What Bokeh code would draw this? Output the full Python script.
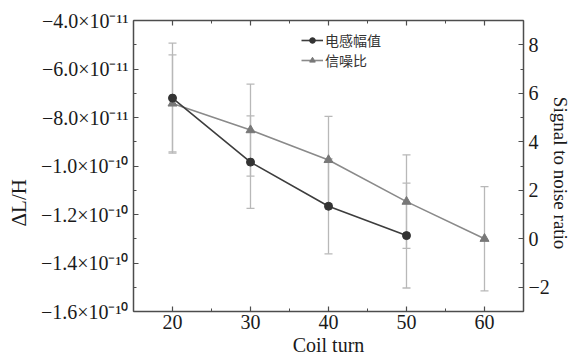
from bokeh.plotting import figure
from bokeh.models import (Range1d, LinearAxis, FixedTicker, Whisker, ColumnDataSource,
                          Legend, LegendItem, TeeHead)
from bokeh.embed import file_html
from bokeh.resources import INLINE

# ---------------- data ----------------
turns_ind = [20, 30, 40, 50]
inductance = [-7.2e-11, -9.84e-11, -1.166e-10, -1.287e-10]
inductance_err = [2.27e-11, 1.91e-11, 1.96e-11, 2.16e-11]

turns_snr = [20, 30, 40, 50, 60]
snr = [5.58, 4.48, 3.25, 1.53, 0.0]
snr_err = [2.0, 1.9, 1.8, 1.93, 2.15]

x_ticks = [20, 30, 40, 50, 60]
x_minor = [15, 25, 35, 45, 55, 65]
left_ticks = [-1.6e-10, -1.4e-10, -1.2e-10, -1.0e-10, -8.0e-11, -6.0e-11, -4.0e-11]
left_minor = [-1.5e-10, -1.3e-10, -1.1e-10, -9.0e-11, -7.0e-11, -5.0e-11]
left_labels = ["−1.6×10⁻¹⁰", "−1.4×10⁻¹⁰", "−1.2×10⁻¹⁰", "−1.0×10⁻¹⁰",
               "−8.0×10⁻¹¹", "−6.0×10⁻¹¹", "−4.0×10⁻¹¹"]
right_ticks = [-2, 0, 2, 4, 6, 8]
right_minor = [-3, -1, 1, 3, 5, 7, 9]
right_labels = ["−2", "0", "2", "4", "6", "8"]

series_names = ["电感幅值", "信噪比"]
x_title = "Coil turn"
left_title = "ΔL/H"
right_title = "Signal to noise ratio"

# ---------------- styles ----------------
SERIF = "Liberation Serif"
AX_COLOR = "#4d4d4d"
TXT = "#1a1a1a"
DARK = "#3d3d3d"
GREY = "#8a8a8a"
ERR = "#b8b8b8"
NBSP = "\u00a0"

p = figure(width=573, height=358, output_backend="svg", toolbar_location=None,
           x_range=Range1d(15, 65), y_range=Range1d(-1.6e-10, -4.0e-11),
           min_border_left=133, min_border_right=48, min_border_top=20,
           min_border_bottom=47, x_axis_location=None, y_axis_location=None)
p.extra_y_ranges = {"snr": Range1d(-3, 9)}
p.outline_line_color = None
p.xgrid.visible = False
p.ygrid.visible = False
p.background_fill_color = "white"
p.border_fill_color = "white"


def style_axis(ax, labels=True):
    ax.axis_line_color = AX_COLOR
    ax.axis_line_width = 1.5
    ax.major_tick_line_color = AX_COLOR
    ax.minor_tick_line_color = AX_COLOR
    ax.major_tick_line_width = 1.2
    ax.minor_tick_line_width = 1.0
    ax.major_tick_in = 5
    ax.major_tick_out = 0
    ax.minor_tick_in = 3
    ax.minor_tick_out = 0
    ax.major_label_text_font = SERIF
    ax.major_label_text_font_size = "20px"
    ax.major_label_text_color = TXT
    ax.major_label_standoff = 5
    ax.axis_label_text_font = SERIF
    ax.axis_label_text_font_style = "normal"
    ax.axis_label_text_color = TXT
    if not labels:
        ax.major_label_text_font_size = "1px"
        ax.major_label_text_alpha = 0
        ax.major_label_standoff = 0


xticker = FixedTicker(ticks=x_ticks, minor_ticks=x_minor)
bottom = LinearAxis(ticker=xticker, axis_label=x_title)
style_axis(bottom)
bottom.major_label_standoff = 3
bottom.axis_label_text_font_size = "20px"
bottom.axis_label_text_line_height = 0.8
bottom.axis_label_standoff = 2
p.add_layout(bottom, "below")

top = LinearAxis(ticker=xticker)
style_axis(top, labels=False)
p.add_layout(top, "above")

left = LinearAxis(ticker=FixedTicker(ticks=left_ticks, minor_ticks=left_minor),
                  axis_label=left_title + NBSP * 14)
left.major_label_overrides = dict(zip(left_ticks, left_labels))
style_axis(left)
left.axis_label_text_font_size = "21px"
left.axis_label_standoff = 7
p.add_layout(left, "left")

right = LinearAxis(y_range_name="snr",
                   ticker=FixedTicker(ticks=right_ticks, minor_ticks=right_minor),
                   axis_label=NBSP * 3 + right_title)
right.major_label_overrides = dict(zip(right_ticks, right_labels))
style_axis(right)
right.axis_label_text_font_size = "19px"
right.axis_label_standoff = -3
p.add_layout(right, "right")

# ---------------- error bars ----------------
src_ind = ColumnDataSource(dict(
    x=turns_ind, y=inductance,
    lo=[v - e for v, e in zip(inductance, inductance_err)],
    hi=[v + e for v, e in zip(inductance, inductance_err)]))
src_snr = ColumnDataSource(dict(
    x=turns_snr, y=snr,
    lo=[v - e for v, e in zip(snr, snr_err)],
    hi=[v + e for v, e in zip(snr, snr_err)]))

for src, rng in ((src_snr, "snr"), (src_ind, "default")):
    w = Whisker(source=src, base="x", lower="lo", upper="hi", dimension="height",
                line_color=ERR, line_width=1.3, level="underlay",
                upper_head=TeeHead(size=8, line_color=ERR, line_width=1.3),
                lower_head=TeeHead(size=8, line_color=ERR, line_width=1.3))
    w.y_range_name = rng
    p.add_layout(w)

# ---------------- series ----------------
l2 = p.line("x", "y", source=src_snr, y_range_name="snr", line_color=GREY, line_width=1.6)
m2 = p.scatter("x", "y", source=src_snr, y_range_name="snr", marker="triangle",
               size=9, fill_color="#787878", line_color="#787878")
l1 = p.line("x", "y", source=src_ind, line_color=DARK, line_width=1.6)
m1 = p.scatter("x", "y", source=src_ind, marker="circle", size=8,
               fill_color="#333333", line_color="#333333")

legend = Legend(items=[LegendItem(label=series_names[0], renderers=[l1, m1]),
                       LegendItem(label=series_names[1], renderers=[l2, m2])],
                location=(168, 241), margin=0, padding=0, spacing=-5,
                glyph_width=22, glyph_height=14, label_height=14, label_standoff=2,
                label_text_font="Noto Sans CJK SC", label_text_font_size="14px",
                label_text_line_height=0.9,
                label_text_color="#333333", background_fill_alpha=0,
                border_line_alpha=0)
p.add_layout(legend)

open("out.html", "w").write(file_html(p, INLINE))
